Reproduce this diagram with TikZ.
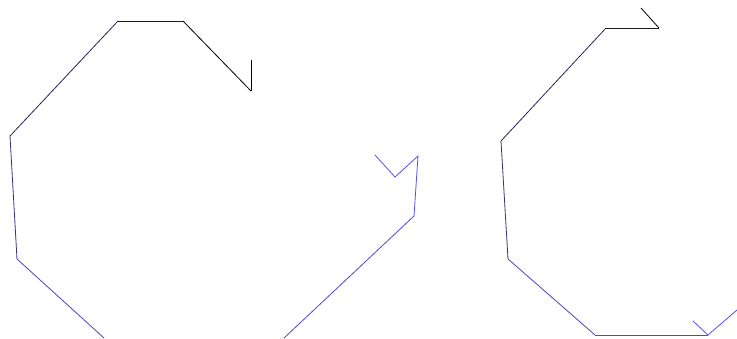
\documentclass[tikz,border=0pt]{standalone}
\usepackage{xcolor}
\usepackage{tikz}
\definecolor{trailblue}{RGB}{80,80,255}
\definecolor{trailnavy}{RGB}{60,60,150}

\begin{document}
\begin{tikzpicture}[x=1pt, y=-1pt,
    seg/.style={line width=0.8pt, line join=miter},
    seg0/.style={seg, black},
    seg1/.style={seg, black!80!gray},
    seg2/.style={seg, trailnavy!60!black},
    seg3/.style={seg, trailnavy!85!black},
    seg4/.style={seg, trailnavy!50!trailblue},
    seg5/.style={seg, trailblue!90!black},
    seg6/.style={seg, trailblue}
]
\useasboundingbox (0,0) rectangle (737,338);

% first trail
\coordinate (a0) at (251,60);
\coordinate (a1) at (251,91);
\coordinate (a2) at (183,21);
\coordinate (a3) at (118,21);
\coordinate (a4) at (10,136);
\coordinate (a5) at (17,259);
\coordinate (a6) at (104,338);
\coordinate (b0) at (284,338);
\coordinate (b1) at (414,216);
\coordinate (b2) at (418,156);
\coordinate (b3) at (395,177);
\coordinate (b4) at (375,155);

\draw[seg0] (a0) -- (a1);
\draw[seg0] (a1) -- (a2);
\draw[seg1] (a2) -- (a3);
\draw[seg2] (a3) -- (a4);
\draw[seg3] (a4) -- (a5);
\draw[seg4] (a5) -- (a6);
\draw[seg5] (b0) -- (b1);
\draw[seg6] (b1) -- (b2) -- (b3) -- (b4);

% second trail
\coordinate (c0) at (641,8);
\coordinate (c1) at (659,28);
\coordinate (c2) at (606,28);
\coordinate (c3) at (501,141);
\coordinate (c4) at (508,259);
\coordinate (c5) at (595,335);
\coordinate (c6) at (708,335);
\coordinate (c7) at (737,310);
\coordinate (c8) at (693,321);

\draw[seg0] (c0) -- (c1);
\draw[seg1] (c1) -- (c2);
\draw[seg2] (c2) -- (c3);
\draw[seg3] (c3) -- (c4);
\draw[seg4] (c4) -- (c5);
\draw[seg5] (c5) -- (c6);
\draw[seg6] (c6) -- (c7);
\draw[seg6] (c8) -- (c6);
\end{tikzpicture}
\end{document}
